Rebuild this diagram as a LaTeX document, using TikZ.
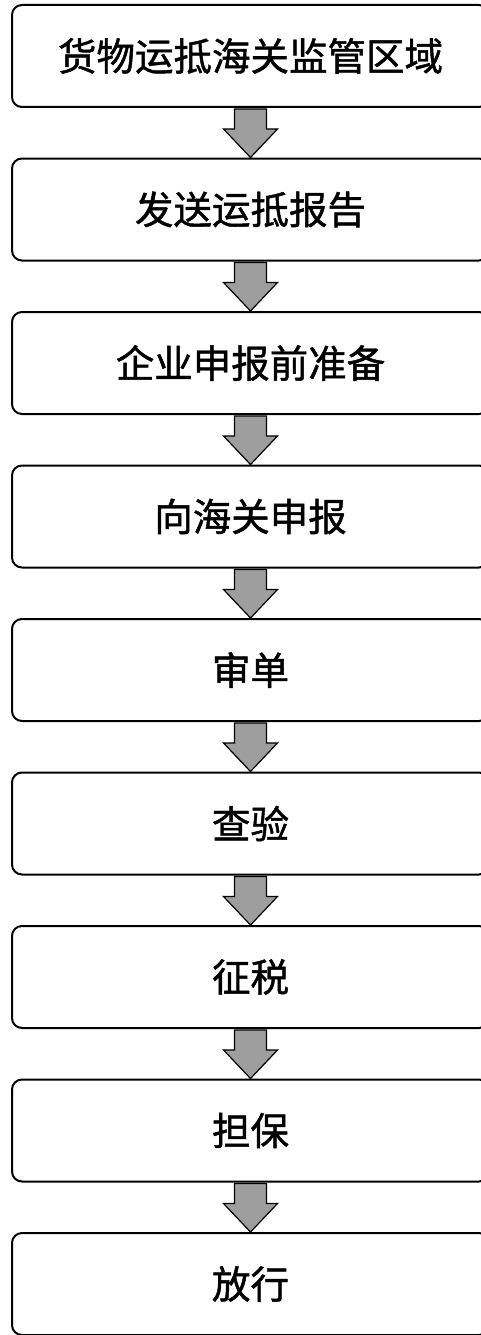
\documentclass[tikz,border=0pt]{standalone}
\usepackage{fontspec}
\newfontfamily\cjk[FakeBold=1.2]{Noto Sans CJK SC}
\usetikzlibrary{calc}
\begin{document}
\begin{tikzpicture}[x=1pt,y=-1pt,
  stepbox/.style={draw=black, line width=2pt, rounded corners=10pt, minimum width=477pt, minimum height=102pt, inner sep=0pt, font=\cjk\fontsize{38.5}{42}\selectfont, anchor=north},
  flowarr/.style={draw=black, line width=1.2pt, fill=black!38, line join=miter}]
\useasboundingbox (0,0) rectangle (481,1335);
\clip (0,0) rectangle (481,1335);
\node[stepbox] (b1) at (250.5,4) {货物运抵海关监管区域};
\node[stepbox] (b2) at (250.5,157.5) {发送运抵报告};
\node[stepbox] (b3) at (250.5,311) {企业申报前准备};
\node[stepbox] (b4) at (250.5,464.5) {向海关申报};
\node[stepbox] (b5) at (250.5,618) {审单};
\node[stepbox] (b6) at (250.5,771.5) {查验};
\node[stepbox] (b7) at (250.5,925) {征税};
\node[stepbox] (b8) at (250.5,1078.5) {担保};
\node[stepbox] (b9) at (250.5,1232) {放行};
\foreach \a/\b in {b1/b2,b2/b3,b3/b4,b4/b5,b5/b6,b6/b7,b7/b8,b8/b9}{
  \draw[flowarr] ($(\a.south)+(-16,1)$) -- ($(\a.south)+(-16,21)$) -- ($(\a.south)+(-27,21)$)
    -- (\b.north) -- ($(\a.south)+(27,21)$) -- ($(\a.south)+(16,21)$) -- ($(\a.south)+(16,1)$) -- cycle;
}
\end{tikzpicture}
\end{document}
